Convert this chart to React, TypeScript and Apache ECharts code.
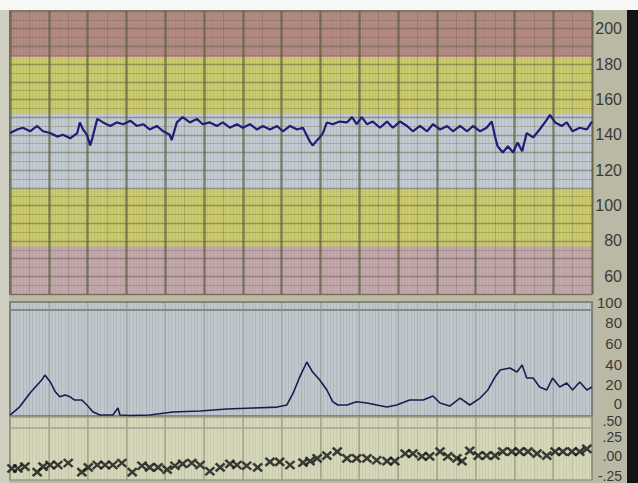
import React, { useEffect, useRef } from "react";
import * as echarts from "echarts";

// Fetal heart rate trace (time in seconds, bpm)
const fhrTime = [0, 11, 20, 31, 42, 51, 62, 73, 82, 93, 104, 108, 113, 119, 124, 128, 135, 144, 155, 165, 175, 186, 196, 206, 216, 227, 237, 247, 250, 258, 267, 278, 289, 298, 309, 320, 329, 340, 351, 360, 371, 382, 391, 402, 413, 422, 433, 444, 453, 464, 468, 475, 479, 484, 490, 499, 510, 521, 529, 536, 544, 552, 561, 572, 583, 592, 603, 614, 623, 634, 645, 654, 665, 676, 685, 696, 707, 716, 727, 737, 745, 750, 754, 762, 770, 778, 785, 792, 799, 809, 819, 830, 835, 843, 853, 861, 870, 881, 892, 900];
const fhrBpm = [141, 143, 144, 142, 145, 142, 141, 139, 140, 138, 141, 147, 143, 140, 134, 139, 149, 147, 145, 147, 146, 148, 145, 146, 143, 145, 142, 140, 137, 147, 150, 147, 149, 146, 147, 145, 147, 144, 146, 144, 146, 143, 145, 143, 145, 142, 145, 143, 144, 136, 134, 137, 138.5, 141, 147, 146, 147.5, 147, 150, 146, 150, 146, 147.5, 144, 147.5, 144, 147.5, 145, 142, 145, 142, 146, 143, 145, 142, 145, 142, 145, 142, 144, 147.5, 139, 133.5, 130, 133.5, 130, 135.7, 130.7, 141, 138.5, 143, 148.5, 151.3, 147, 145, 147, 142, 144, 143, 147.5];

// Uterine activity (toco) trace
const tocoTime = [0, 15, 31, 42, 49, 54, 62, 70, 77, 85, 93, 100, 111, 119, 128, 139, 159, 167, 170, 186, 216, 252, 294, 335, 376, 413, 428, 438, 448, 459, 468, 479, 490, 499, 507, 521, 536, 552, 567, 583, 598, 618, 639, 654, 665, 680, 696, 711, 727, 739, 750, 758, 773, 784, 792, 799, 809, 819, 830, 839, 850, 861, 870, 881, 892, 900];
const tocoValue = [-9.1, -1.1, 12.2, 19.9, 24.7, 29.5, 23.1, 13.4, 8.5, 10.2, 8.5, 5.4, 5.4, 0.6, -5.9, -9.1, -9.1, -2.3, -9.1, -9.5, -9.1, -6.2, -5.2, -3.3, -2.3, -1.4, 0.6, 12.2, 27.6, 42.1, 32.4, 24.7, 15.1, 3.8, 0.6, 0.6, 3.8, 2.5, 0.6, -1.4, 0.6, 5.4, 5.4, 9.3, 2.5, -0.4, 7.3, 0.6, 7.3, 15.1, 27.6, 34.4, 36.3, 32.4, 39.2, 26.6, 26.6, 18, 15.1, 26.6, 18, 21.8, 15.1, 22.8, 15.1, 18];

// Movement / signal markers in the lowest strip
const markTime = [3, 12, 23, 42, 51, 62, 74, 90, 111, 121, 135, 147, 159, 173, 189, 204, 216, 229, 243, 255, 267, 281, 294, 309, 325, 340, 351, 366, 383, 402, 417, 433, 453, 464, 475, 490, 506, 521, 536, 552, 567, 583, 595, 611, 623, 637, 649, 665, 677, 691, 699, 711, 724, 737, 750, 762, 776, 788, 801, 815, 830, 843, 855, 869, 881, 892];
const markValue = [-0.155, -0.155, -0.13, -0.2, -0.13, -0.11, -0.11, -0.085, -0.2, -0.14, -0.11, -0.11, -0.11, -0.085, -0.2, -0.12, -0.14, -0.14, -0.17, -0.12, -0.095, -0.085, -0.11, -0.19, -0.14, -0.095, -0.11, -0.12, -0.14, -0.07, -0.07, -0.11, -0.08, -0.06, -0.025, 0.01, 0.06, -0.025, -0.025, -0.025, -0.05, -0.06, -0.06, 0.035, 0.035, 0, 0, 0.06, 0, -0.025, -0.06, 0.07, 0.01, 0.01, 0.01, 0.06, 0.06, 0.06, 0.06, 0.035, 0.01, 0.06, 0.06, 0.06, 0.06, 0.095];

// Heart-rate zone bands (bpm)
const bandLow = [48, 77, 109, 152, 184];
const bandHigh = [77, 109, 152, 184, 211];
const bandColors = ["#c3a7ab", "#cbca6c", "#c2cad2", "#cbca6c", "#b38a83"];

// Tick labels
const fhrLabels = [60, 80, 100, 120, 140, 160, 180, 200];
const tocoLabels = [0, 20, 40, 60, 80, 100];
const markLabels = [-0.25, 0, 0.25, 0.5];

const fmtMark = (v: number) => {
  if (Math.abs(v) < 1e-9) return ".00";
  return (v < 0 ? "-" : "") + Math.abs(v).toFixed(2).slice(1);
};

const near = (list: number[], v: number) => list.some((x) => Math.abs(x - v) < 1e-6);

export default function App() {
  const ref = useRef<HTMLDivElement>(null);

  useEffect(() => {
    if (!ref.current) return;
    const chart = echarts.init(ref.current, undefined, { renderer: "svg" });

    const fhrData = fhrTime.map((t, i) => [t, fhrBpm[i]]);
    const tocoData = tocoTime.map((t, i) => [t, tocoValue[i]]);
    const markData = markTime.map((t, i) => [t, markValue[i]]);

    const majorX = (gridIndex: number, color: string, width: number) => ({
      type: "value",
      gridIndex,
      min: 0,
      max: 900,
      interval: 60,
      z: 3,
      axisLine: { show: false },
      axisTick: { show: false },
      axisLabel: { show: false },
      splitLine: { show: true, lineStyle: { color, width } },
    });
    const minorX = (gridIndex: number, color: string, stripe: string) => ({
      type: "value",
      gridIndex,
      min: 0,
      max: 900,
      interval: 30,
      z: 3,
      axisLine: { show: false },
      axisTick: { show: false },
      axisLabel: { show: false },
      splitLine: { show: true, lineStyle: { color, width: 1.2 } },
      minorTick: { show: false, splitNumber: 6 },
      minorSplitLine: { show: true, lineStyle: { color: stripe, width: 1 } },
    });

    const labelStyle = {
      color: "#3a3a34",
      fontFamily: "Liberation Sans, Arial, sans-serif",
      align: "right",
      margin: 30,
    };

    chart.setOption({
      animation: false,
      backgroundColor: "#f7f7f5",
      graphic: [
        { type: "rect", shape: { x: 0, y: 10, width: 638, height: 473 }, style: { fill: "#b9b9a6" }, z: -10 },
        { type: "rect", shape: { x: 627, y: 10, width: 11, height: 473 }, style: { fill: "#141414" }, z: -9 },
        { type: "rect", shape: { x: 0, y: 10, width: 9, height: 473 }, style: { fill: "#cfcfc2" }, z: -9 },
      ],
      grid: [
        { left: 10, top: 11, width: 582, height: 283, show: true, backgroundColor: "transparent", borderColor: "#7f7f6a", borderWidth: 2 },
        { left: 10, top: 302, width: 582, height: 114, show: true, backgroundColor: "#bec8cd", borderColor: "#85887c", borderWidth: 2 },
        { left: 10, top: 417, width: 582, height: 70, show: true, backgroundColor: "#d5d7ba", borderColor: "#9a9b88", borderWidth: 1.5 },
      ],
      xAxis: [
        minorX(0, "rgba(95,95,65,0.32)", "rgba(110,110,90,0.10)"),
        majorX(0, "rgba(95,95,65,0.6)", 2.6),
        minorX(1, "rgba(110,115,110,0.25)", "rgba(110,115,120,0.16)"),
        majorX(1, "rgba(110,115,110,0.22)", 1.5),
        minorX(2, "rgba(140,140,110,0.3)", "rgba(140,140,115,0.14)"),
        majorX(2, "rgba(140,140,110,0.45)", 2),
      ],
      yAxis: [
        {
          type: "value",
          gridIndex: 0,
          position: "right",
          min: 50,
          max: 210,
          interval: 10,
          z: 3,
          axisLine: { show: false },
          axisTick: { show: false },
          axisLabel: { ...labelStyle, fontSize: 16, formatter: (v: number) => (near(fhrLabels, v) ? String(v) : "") },
          splitLine: { show: true, lineStyle: { color: "rgba(95,95,65,0.5)", width: 1.4 } },
          minorTick: { show: false, splitNumber: 2 },
          minorSplitLine: { show: true, lineStyle: { color: "rgba(95,95,65,0.28)", width: 1 } },
        },
        {
          type: "value",
          gridIndex: 1,
          position: "right",
          min: -10,
          max: 100,
          interval: 10,
          axisLine: { show: false },
          axisTick: { show: false },
          splitLine: { show: false },
          axisLabel: {
            ...labelStyle,
            fontSize: 15,
            formatter: (v: number) => (near(tocoLabels, v) ? (v === 0 ? "{z|0}" : String(v)) : ""),
            rich: { z: { fontSize: 15, color: "#3a3a34", fontFamily: "Liberation Sans, Arial, sans-serif", padding: [0, 0, 5, 0] } },
          },
        },
        {
          type: "value",
          gridIndex: 2,
          position: "right",
          min: -0.3,
          max: 0.5,
          interval: 0.05,
          axisLine: { show: false },
          axisTick: { show: false },
          splitLine: { show: false },
          axisLabel: {
            ...labelStyle,
            fontSize: 14,
            formatter: (v: number) => {
              if (!near(markLabels, v)) return "";
              const s = fmtMark(v);
              return Math.abs(v - 0.5) < 1e-6 ? "{t|" + s + "}" : s;
            },
            rich: { t: { fontSize: 14, color: "#3a3a34", fontFamily: "Liberation Sans, Arial, sans-serif", padding: [7, 0, 0, 0] } },
          },
        },
      ],
      series: [
        {
          type: "line",
          xAxisIndex: 1,
          yAxisIndex: 0,
          data: fhrData,
          z: 1,
          silent: true,
          showSymbol: false,
          lineStyle: { opacity: 0 },
          markArea: {
            silent: true,
            data: bandLow.map((lo, i) => [
              { yAxis: lo, itemStyle: { color: bandColors[i] } },
              { yAxis: bandHigh[i] },
            ]),
          },
        },
        {
          type: "line",
          xAxisIndex: 1,
          yAxisIndex: 0,
          data: fhrData,
          z: 6,
          showSymbol: false,
          lineStyle: { color: "#201d74", width: 2.2 },
        },
        {
          type: "line",
          xAxisIndex: 3,
          yAxisIndex: 1,
          data: tocoData,
          z: 6,
          showSymbol: false,
          lineStyle: { color: "#1c1a52", width: 1.6 },
          markLine: {
            silent: true,
            symbol: "none",
            label: { show: false },
            lineStyle: { color: "#878a7e", width: 2, type: "solid" },
            data: [{ yAxis: 93 }],
          },
        },
        {
          type: "scatter",
          xAxisIndex: 5,
          yAxisIndex: 2,
          data: markData,
          z: 6,
          symbol: "path://M0 0L10 10M10 0L0 10",
          symbolSize: [9, 8],
          itemStyle: { color: "rgba(0,0,0,0)", borderColor: "#141414", borderWidth: 2.5 },
          markLine: {
            silent: true,
            symbol: "none",
            label: { show: false },
            lineStyle: { color: "#a4a590", width: 1.5, type: "solid" },
            data: [{ yAxis: 0.36 }],
          },
        },
      ],
    });

    return () => chart.dispose();
  }, []);

  return (
    <div
      ref={ref}
      style={{ position: "fixed", left: 0, top: 0, width: 638, height: 483 }}
    />
  );
}
